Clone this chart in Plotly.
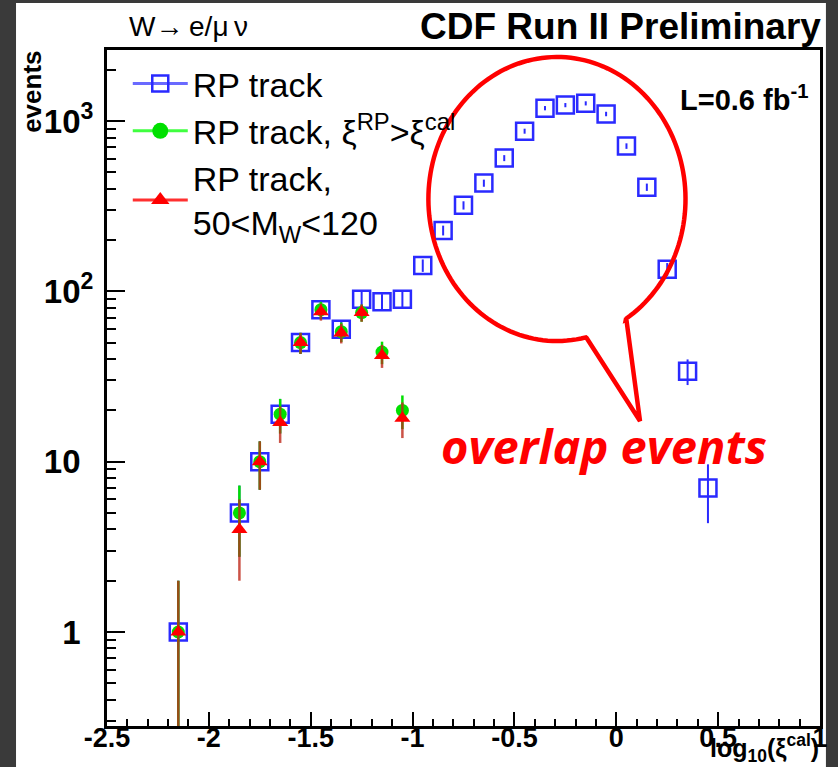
import numpy as np
import plotly.graph_objects as go

# ---------------- data ----------------
xi_bins = [-2.15, -1.85, -1.75, -1.65, -1.55, -1.45, -1.35, -1.25, -1.15, -1.05,
           -0.95, -0.85, -0.75, -0.65, -0.55, -0.45, -0.35, -0.25, -0.15, -0.05,
           0.05, 0.15, 0.25, 0.35, 0.45]
rp_track = [1, 5, 10, 19, 50, 78, 60, 90, 87, 90,
            142, 228, 320, 432, 606, 872, 1190, 1240, 1270, 1100,
            713, 409, 135, 34, 7]

xi_bins_sel = [-2.15, -1.85, -1.75, -1.65, -1.55, -1.45, -1.35, -1.25, -1.15, -1.05]
rp_xi_gt = [1, 5, 10, 19, 50, 78, 58, 75, 44, 20]
rp_mw = [1, 4, 10, 17, 50, 76, 57, 75, 42, 18]

x_ticks = [-2.5, -2, -1.5, -1, -0.5, 0, 0.5, 1]
x_tick_text = ["-2.5", "-2", "-1.5", "-1", "-0.5", "0", "0.5", "1"]
y_ticks = [1, 10, 100, 1000]
GHOST = "<span style='color:rgba(0,0,0,0)'><sup>2</sup></span>"
y_tick_text = ["1" + GHOST, "10" + GHOST, "10<sup>2</sup>", "10<sup>3</sup>"]

# ---------------- geometry ----------------
W, H = 838, 767
L, R, T, B = 107, 10, 50, 41
PW, PH = W - L - R, H - T - B


def px(x):
    return (x - L) / PW


def py(y):
    return (H - B - y) / PH


BLUE = "#2a2aff"
GREEN = "#00e000"
RED = "#ff0000"
FONT = "Liberation Sans"

fig = go.Figure()

# data traces
fig.add_trace(go.Scatter(
    x=xi_bins, y=rp_track, mode="markers", showlegend=False,
    marker=dict(symbol="square-open", size=17, color=BLUE, line=dict(width=2.5, color=BLUE)),
    error_y=dict(type="data", array=list(np.sqrt(rp_track)), color=BLUE, thickness=2, width=0),
))
fig.add_trace(go.Scatter(
    x=xi_bins_sel, y=rp_xi_gt, mode="markers", showlegend=False,
    marker=dict(symbol="circle", size=13, color=GREEN),
    error_y=dict(type="data", array=list(np.sqrt(rp_xi_gt)), color=GREEN, thickness=2.5, width=0),
))
fig.add_trace(go.Scatter(
    x=xi_bins_sel, y=rp_mw, mode="markers", showlegend=False,
    marker=dict(symbol="triangle-up", size=14, color=RED),
    error_y=dict(type="data", array=list(np.sqrt(rp_mw)), color="rgba(190,40,25,0.8)", thickness=2.5, width=0),
))

# legend entries (line through marker, ROOT style)
fig.add_trace(go.Scatter(
    x=[None], y=[None], mode="lines+markers", name="RP track", legendgroup="a",
    line=dict(color="#6a6aff", width=3),
    marker=dict(symbol="square-open", size=17, color=BLUE, line=dict(width=2.5, color=BLUE)),
))
fig.add_trace(go.Scatter(
    x=[None], y=[None], mode="lines+markers", legendgroup="b",
    name="RP track, ξ<sup>RP</sup>&gt;ξ<sup>cal</sup>",
    line=dict(color="#40ff40", width=3),
    marker=dict(symbol="circle", size=16, color=GREEN),
))
fig.add_trace(go.Scatter(
    x=[None], y=[None], mode="lines+markers", legendgroup="c",
    name="RP track,<br>50&lt;M<sub>W</sub>&lt;120",
    line=dict(color="#ff3030", width=3),
    marker=dict(symbol="triangle-up", size=17, color=RED),
))

# speech bubble
cx, cy, a, b = 562, 199, 130, 142
t = np.radians(np.linspace(57.5, -283.0, 160))
pts = [(592, 338), (646, 421), (632, 318)] + [(cx + a * np.cos(v), cy + b * np.sin(v)) for v in t]
path = "M " + " L ".join(f"{px(x):.5f},{py(y):.5f}" for x, y in pts) + " Z"

shapes = [
    dict(type="rect", xref="paper", yref="paper", x0=px(15), x1=px(834), y0=py(3), y1=py(767),
         fillcolor="white", line=dict(width=0), layer="below"),
    dict(type="path", xref="paper", yref="paper", path=path, line=dict(color=RED, width=4.5),
         fillcolor="rgba(0,0,0,0)"),
]

annotations = [
    dict(text="W\u2192\u2009e/\u03bc\u2009\u03bd", x=px(127), y=py(26), xref="paper", yref="paper",
         xanchor="left", yanchor="middle", showarrow=False,
         font=dict(family=FONT, size=28, color="black")),
    dict(text="<b>CDF Run II Preliminary</b>", x=px(831), y=py(26), xref="paper", yref="paper",
         xanchor="right", yanchor="middle", showarrow=False,
         font=dict(family=FONT, size=37, color="black")),
    dict(text="<b>L=0.6 fb<sup>-1</sup></b>", x=px(818), y=py(98), xref="paper", yref="paper",
         xanchor="right", yanchor="middle", showarrow=False,
         font=dict(family=FONT, size=29, color="black")),
    dict(text="<b>events</b>", x=px(31), y=py(49), xref="paper", yref="paper",
         xanchor="center", yanchor="top", textangle=-90, showarrow=False,
         font=dict(family=FONT, size=26, color="black")),
    dict(text="<b>log<sub>10</sub>(ξ<sup>cal</sup>)</b>", x=px(829), y=py(768), xref="paper", yref="paper",
         xanchor="right", yanchor="bottom", showarrow=False,
         font=dict(family=FONT, size=25, color="black")),
    dict(text="<b><i>overlap events</i></b>", x=px(610), y=py(446), xref="paper", yref="paper",
         xanchor="center", yanchor="middle", showarrow=False,
         font=dict(family="Open Sans", size=47, color=RED)),
]

fig.update_layout(
    width=W, height=H, autosize=False,
    margin=dict(l=L, r=R, t=T, b=B, pad=0),
    paper_bgcolor="#3a3a3a", plot_bgcolor="white",
    shapes=shapes, annotations=annotations,
    legend=dict(x=px(128), y=py(55), xanchor="left", yanchor="top",
                bgcolor="rgba(0,0,0,0)", traceorder="grouped", tracegroupgap=0,
                font=dict(family=FONT, size=34, color="black"), itemwidth=55),
    showlegend=True,
)

fig.update_xaxes(
    range=[-2.5, 1], showgrid=False, zeroline=False,
    showline=True, linecolor="black", linewidth=3, mirror=True,
    ticks="inside", ticklen=14, tickwidth=2, tickcolor="black",
    tickmode="array", tickvals=x_ticks, ticktext=x_tick_text,
    tickfont=dict(family=FONT, size=27, color="black", weight="bold"),
    ticklabelstandoff=-14,
    minor=dict(ticks="inside", ticklen=7, tickwidth=2, tickcolor="black", dtick=0.1, tick0=-2.5),
)
fig.update_yaxes(
    type="log", range=[-0.552, 3.417], showgrid=False, zeroline=False,
    showline=True, linecolor="black", linewidth=3, mirror=True,
    ticks="inside", ticklen=18, tickwidth=2, tickcolor="black",
    tickmode="array", tickvals=y_ticks, ticktext=y_tick_text,
    tickfont=dict(family=FONT, size=33, color="black", weight="bold"),
    ticklabelstandoff=4,
    minor=dict(ticks="inside", ticklen=9, tickwidth=2, tickcolor="black", tickmode="array",
               tickvals=[m * d for d in (0.1, 1, 10, 100, 1000) for m in range(2, 10)]),
)

fig.write_html("out.html")
